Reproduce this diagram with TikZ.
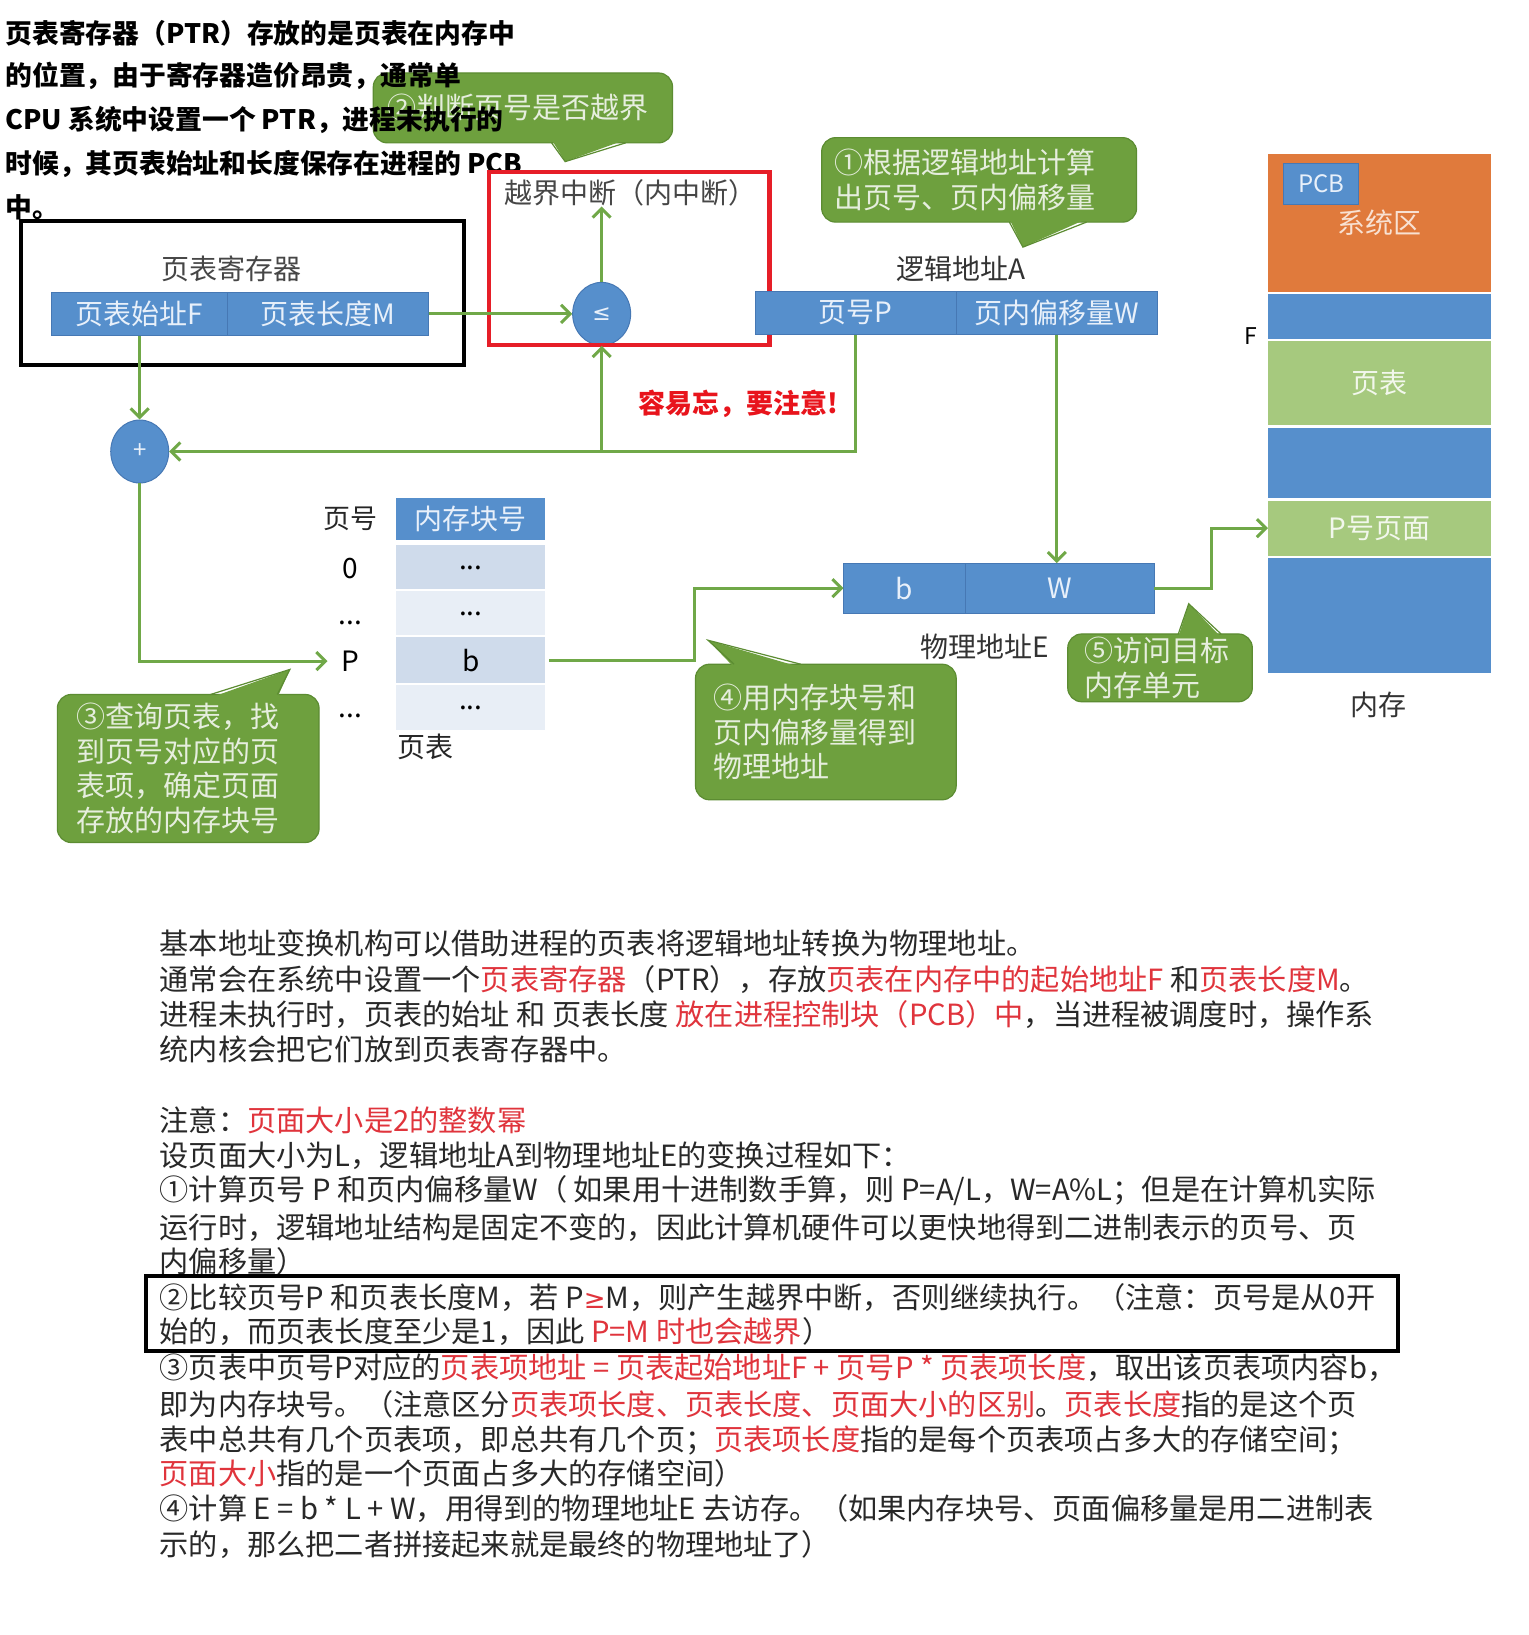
\documentclass[tikz,border=0pt]{standalone}
\usepackage{fontspec}
\setmainfont{Noto Sans CJK SC}
\newfontfamily\symf{DejaVu Sans}
\usetikzlibrary{arrows.meta,shapes.geometric,calc}
\definecolor{barblue}{RGB}{86,143,204}
\definecolor{bardiv}{RGB}{70,120,180}
\definecolor{bartext}{RGB}{232,240,250}
\definecolor{arrgreen}{RGB}{112,168,72}
\definecolor{bubgreen}{RGB}{110,160,62}
\definecolor{bubedge}{RGB}{92,140,50}
\definecolor{bubtext}{RGB}{230,238,222}
\definecolor{sysorange}{RGB}{224,122,60}
\definecolor{lgreen}{RGB}{166,201,126}
\definecolor{rowdark}{RGB}{207,219,235}
\definecolor{rowlight}{RGB}{232,238,246}
\definecolor{lblgray}{RGB}{70,70,70}
\definecolor{tred}{RGB}{224,52,60}
\definecolor{alertred}{RGB}{232,20,28}
\definecolor{frred}{RGB}{230,30,40}
\definecolor{bodytext}{RGB}{40,40,40}
\newcommand\mybox[7]{\node[#6, minimum width={(#4-#2)*1.043pt}, minimum height={(#5-#3)*1.043pt}] (#1) at ({(#2+#4)/2},{(#3+#5)/2}) {#7};}
\newcommand\mybubble[7]{\node[bubble, minimum height={(#5-#3)*1.043pt}, inner xsep={#6*1.043pt}, text width={(#4-#2-2*#6)*1.043pt}] (#1) at ({(#2+#4)/2},{(#3+#5)/2}) {#7};}
\newcommand\lowdots{\raisebox{-5pt}{...}}
\tikzset{
  cell/.style={inner sep=0pt, outer sep=0pt, font=\fontsize{28}{30}\selectfont},
  bluecell/.style={cell, fill=barblue, draw=bardiv, line width=0.8pt, text=bartext},
  lbl/.style={inner sep=0pt, font=\fontsize{28}{30}\selectfont, text=lblgray},
  arr/.style={draw=arrgreen, line width=3pt, -{Straight Barb[length=9pt,width=18pt]}},
  op/.style={ellipse, fill=barblue, draw=bardiv, line width=1pt, minimum width=58pt, minimum height=63pt, inner sep=0pt, text=bartext, font=\fontsize{24}{26}\selectfont},
  bubble/.style={rounded corners=14pt, fill=bubgreen, draw=bubedge, line width=1.2pt, text=bubtext, align=left, inner ysep=0pt, font=\fontsize{29}{34.5}\selectfont},
  frame/.style={line width=4.2pt},
  toptext/.style={anchor=west, inner sep=0pt, font=\fontsize{26.8}{28}\selectfont\bfseries},
  body/.style={anchor=west, inner sep=0pt, text=bodytext, font=\fontsize{29.2}{31}\selectfont},
}
\begin{document}
\begin{tikzpicture}[x=1.043pt, y=-1.043pt]
\useasboundingbox (0,0) rectangle (1466,1568);
\fill[white] (0,0) rectangle (1466,1568);

% bubble 2 (under the top text)
\mybubble{bub2}{358}{70}{645}{137}{14}{②判断页号是否越界}
\fill[bubgreen] (529,134) -- (542,155) -- (600,134) -- cycle;
\draw[bubedge, line width=1.2pt] (529,137) -- (542,155) -- (600,137);

% top text
\node[toptext] (tt1) at (5,32) {页表寄存器（PTR）存放的是页表在内存中};
\node[toptext] (tt2) at (5,73) {的位置，由于寄存器造价昂贵，通常单};
\node[toptext] (tt3) at (5,115) {CPU 系统中设置一个 PTR，进程未执行的};
\node[toptext] (tt4) at (5,157) {时候，其页表始址和长度保存在进程的 PCB};
\node[toptext] (tt5) at (5,199) {中。};

% page table register
\node[lbl] (ptrlbl) at (222,258) {页表寄存器};
\mybox{ptrF}{49}{280}{218}{322}{bluecell}{页表始址F}
\mybox{ptrM}{218}{280}{411}{322}{bluecell}{页表长度M}
\mybox{frameA}{20}{212}{445}{350}{frame, draw=black}{}

% compare
\node[lbl] (yj) at (605,185) {越界中断（内中断）};
\node[op] (le) at (577,301) {\symf\fontsize{22}{24}\selectfont ≤};
\mybox{frameB}{469}{165}{738}{331}{frame, draw=frred}{}

% bubble 1
\mybubble{bub1}{788}{132}{1090}{213}{12}{①根据逻辑地址计算\\出页号、页内偏移量}
\fill[bubgreen] (968,210) -- (981,237) -- (1042,210) -- cycle;
\draw[bubedge, line width=1.2pt] (968,213) -- (981,237) -- (1042,213);

% logical address
\node[lbl, text=black!80] (lalbl) at (922,258) {逻辑地址A};
\mybox{pageP}{724}{279}{917}{321}{bluecell}{页号P}
\mybox{offW}{917}{279}{1110}{321}{bluecell}{页内偏移量W}

% alert
\node[inner sep=0pt, text=alertred, font=\fontsize{27}{29}\selectfont\bfseries] (alert) at (708,387) {容易忘，要注意!};

% plus
\node[op] (plus) at (134,433) {+};

% page table
\node[inner sep=0pt, font=\fontsize{27}{29}\selectfont, text=black!85] (hdr) at (336,498) {页号};
\mybox{colhdr}{380}{478}{523}{518}{bluecell, draw=none}{内存块号}
\mybox{rowA}{380}{523}{523}{565}{cell, fill=rowdark}{\lowdots}
\mybox{rowB}{380}{567}{523}{609}{cell, fill=rowlight}{\lowdots}
\mybox{rowP}{380}{611}{523}{655}{cell, fill=rowdark}{b}
\mybox{rowC}{380}{657}{523}{700}{cell, fill=rowlight}{\lowdots}
\node[cell] (r0) at (336,545) {0};
\node[cell] (r1) at (336,597) {...};
\node[cell] (rP) at (336,634) {P};
\node[cell] (r2) at (336,687) {...};
\node[lbl, text=black!85] (ptlbl) at (408,716) {页表};

% physical address
\mybox{physB}{809}{540}{926}{588}{bluecell}{b}
\mybox{physW}{926}{540}{1107}{588}{bluecell}{W}
\node[lbl, text=black!80] (palbl) at (944,620) {物理地址E};

% memory
\mybox{sys}{1216}{148}{1430}{280}{cell, fill=sysorange, text={rgb,255:red,248;green,225;blue,210}}{系统区}
\mybox{pcb}{1231}{157}{1303}{196}{bluecell, font=\fontsize{24}{26}\selectfont}{PCB}
\mybox{m1}{1216}{282}{1430}{325}{cell, fill=barblue}{}
\mybox{mpt}{1216}{327}{1430}{408}{cell, fill=lgreen, text={rgb,255:red,242;green,247;blue,236}}{页表}
\mybox{m2}{1216}{410}{1430}{478}{cell, fill=barblue}{}
\mybox{ppage}{1216}{480}{1430}{533}{cell, fill=lgreen, text={rgb,255:red,242;green,247;blue,236}}{P号页面}
\mybox{m3}{1216}{535}{1430}{645}{cell, fill=barblue}{}
\node[inner sep=0pt, font=\fontsize{23}{25}\selectfont] (flbl) at (1200,322) {F};
\node[lbl, text=black!80] (memlbl) at (1322,676) {内存};

% bubbles 3,4,5
\mybubble{bub3}{55}{666}{306}{808}{18}{③查询页表，找\\到页号对应的页\\表项，确定页面\\存放的内存块号}
\fill[bubgreen] (202,669) -- (278,642) -- (266,669) -- cycle;
\draw[bubedge, line width=1.2pt] (202,666) -- (278,642) -- (266,666);
\mybubble{bub4}{667}{637}{917}{767}{17}{④用内存块号和\\页内偏移量得到\\物理地址}
\fill[bubgreen] (704,640) -- (679,614) -- (768,640) -- cycle;
\draw[bubedge, line width=1.2pt] (704,637) -- (679,614) -- (768,637);
\mybubble{bub5}{1024}{608}{1201}{673}{16}{⑤访问目标\\内存单元}
\fill[bubgreen] (1130,611) -- (1140,579) -- (1171,611) -- cycle;
\draw[bubedge, line width=1.2pt] (1130,608) -- (1140,579) -- (1171,608);

% connectors
\draw[arr] (ptrM.east) -- (le.west);
\draw[arr] (le.north) -- (le.north |- yj.south);
\draw[arr] (ptrF.south -| plus.north) -- (plus.north);
\coordinate (J) at (le.south |- plus.east);
\draw[arr] (pageP.south) |- (plus.east);
\draw[arr] (J) -- (le.south);
\draw[arr] (plus.south) |- ([xshift=-14pt]rP.west);
\draw[arr] ([xshift=4pt]rowP.east) -| ($(rowP.east)!.5!(physB.west)$) |- (physB.west);
\draw[arr] (offW.south) -- (offW.south |- physW.north);
\draw[arr] (physW.east) -| ($(physW.east)!.5!(ppage.west)$) |- (ppage.west);

% bottom text
\node[body] (b1) at (153,905) {基本地址变换机构可以借助进程的页表将逻辑地址转换为物理地址。};
\node[body] (b2) at (153,939) {通常会在系统中设置一个\textcolor{tred}{页表寄存器}（PTR），存放\textcolor{tred}{页表在内存中的起始地址F} 和\textcolor{tred}{页表长度M}。};
\node[body] (b3) at (153,973) {进程未执行时，页表的始址 和 页表长度 \textcolor{tred}{放在进程控制块（PCB）中}，当进程被调度时，操作系};
\node[body] (b4) at (153,1006) {统内核会把它们放到页表寄存器中。};
\node[body] (b5) at (153,1074) {注意：\textcolor{tred}{页面大小是2的整数幂}};
\node[body] (b6) at (153,1108) {设页面大小为L，逻辑地址A到物理地址E的变换过程如下：};
\node[body] (b7) at (153,1142) {①计算页号 P 和页内偏移量W（ 如果用十进制数手算，则 P=A/L，W=A\%L；但是在计算机实际};
\node[body] (b8) at (153,1177) {运行时，逻辑地址结构是固定不变的，因此计算机硬件可以更快地得到二进制表示的页号、页};
\node[body] (b9) at (153,1210) {内偏移量）};
\node[body] (b10) at (153,1244) {②比较页号P 和页表长度M，若 P\textcolor{tred}{\symf\fontsize{26}{28}\selectfont ≥}M，则产生越界中断，否则继续执行。（注意：页号是从0开};
\node[body] (b11) at (153,1277) {始的，而页表长度至少是1，因此 \textcolor{tred}{P=M 时也会越界}）};
\node[body] (b12) at (153,1312) {③页表中页号P对应的\textcolor{tred}{页表项地址 = 页表起始地址F + 页号P * 页表项长度}，取出该页表项内容b，};
\node[body] (b13) at (153,1347) {即为内存块号。（注意区分\textcolor{tred}{页表项长度、页表长度、页面大小的区别}。\textcolor{tred}{页表长度}指的是这个页};
\node[body] (b14) at (153,1381) {表中总共有几个页表项，即总共有几个页；\textcolor{tred}{页表项长度}指的是每个页表项占多大的存储空间；};
\node[body] (b15) at (153,1413) {\textcolor{tred}{页面大小}指的是一个页面占多大的存储空间）};
\node[body] (b16) at (153,1447) {④计算 E = b * L + W，用得到的物理地址E 去访存。（如果内存块号、页面偏移量是用二进制表};
\node[body] (b17) at (153,1481) {示的，那么把二者拼接起来就是最终的物理地址了）};
\mybox{frameC}{140}{1224}{1341}{1296}{frame, draw=black}{}
\end{tikzpicture}
\end{document}
